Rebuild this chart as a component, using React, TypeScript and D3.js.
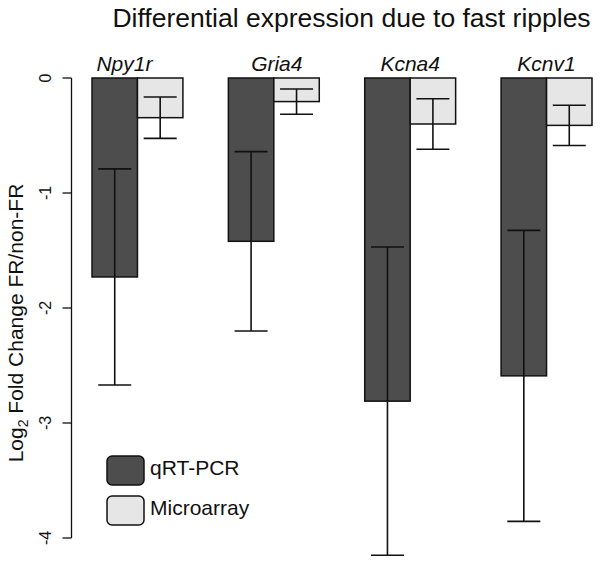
import * as d3 from "d3"

const genes = ["Npy1r", "Gria4", "Kcna4", "Kcnv1"]
const series = ["qRT-PCR", "Microarray"]
const qpcrMean = [-1.73, -1.42, -2.81, -2.59]
const qpcrErr = [0.94, 0.78, 1.34, 1.265]
const arrayMean = [-0.345, -0.205, -0.4, -0.412]
const arrayErr = [0.18, 0.11, 0.22, 0.175]
const yTicks = [0, -1, -2, -3, -4]

const W = 602
const H = 564
const font = "'Liberation Sans', Arial, Helvetica, sans-serif"
const fills = ["#4d4d4d", "#e6e6e6"]

// small nudges so the gene names sit where the original put them
const labelShift: Record<string, number> = { Npy1r: -13, Gria4: 3 }

export default function App() {
  const x = d3.scaleBand<string>().domain(genes).range([92, 592]).paddingInner(1 / 3).paddingOuter(0)
  const xs = d3.scaleBand<string>().domain(series).range([0, x.bandwidth()])
  const y = d3.scaleLinear().domain([-4, 0]).range([538, 78])

  const rows = genes.map((g, i) => [
    { gene: g, s: series[0], mean: qpcrMean[i], err: qpcrErr[i] },
    { gene: g, s: series[1], mean: arrayMean[i], err: arrayErr[i] },
  ])

  const capW = 33
  const axisX = 71.5

  return (
    <svg
      width={W}
      height={H}
      style={{ position: "absolute", left: 0, top: 0, background: "#fff" }}
      fontFamily={font}
    >
      <rect width={W} height={H} fill="#fff" />

      {/* title */}
      <text x={351.5} y={27} textAnchor="middle" fontSize={26.5} fill="#111">
        Differential expression due to fast ripples
      </text>

      {/* bars */}
      {rows.map((pair) =>
        pair.map((d, j) => {
          const bx = (x(d.gene) as number) + (xs(d.s) as number)
          return (
            <rect
              key={d.gene + d.s}
              x={bx}
              y={y(0)}
              width={xs.bandwidth()}
              height={y(d.mean) - y(0)}
              fill={fills[j]}
              stroke="#111"
              strokeWidth={1.5}
            />
          )
        })
      )}

      {/* error bars */}
      {rows.map((pair) =>
        pair.map((d) => {
          const cx = (x(d.gene) as number) + (xs(d.s) as number) + xs.bandwidth() / 2
          const top = y(d.mean + d.err)
          const bot = y(d.mean - d.err)
          return (
            <g key={"e" + d.gene + d.s} stroke="#111" strokeWidth={1.6}>
              <line x1={cx} x2={cx} y1={top} y2={bot} />
              <line x1={cx - capW / 2} x2={cx + capW / 2} y1={top} y2={top} />
              <line x1={cx - capW / 2} x2={cx + capW / 2} y1={bot} y2={bot} />
            </g>
          )
        })
      )}

      {/* gene labels */}
      {genes.map((g) => (
        <text
          key={g}
          x={(x(g) as number) + x.bandwidth() / 2 + (labelShift[g] || 0)}
          y={71}
          textAnchor="middle"
          fontSize={21}
          fontStyle="italic"
          fill="#111"
        >
          {g}
        </text>
      ))}

      {/* y axis */}
      <line x1={axisX} x2={axisX} y1={y(0)} y2={y(-4)} stroke="#111" strokeWidth={1.3} />
      {yTicks.map((t) => (
        <g key={t}>
          <line x1={axisX - 9} x2={axisX} y1={y(t)} y2={y(t)} stroke="#111" strokeWidth={1.3} />
          <text
            transform={`translate(51,${y(t)}) rotate(-90)`}
            textAnchor="middle"
            fontSize={16}
            fill="#111"
          >
            {t}
          </text>
        </g>
      ))}

      {/* y axis title */}
      <text transform={`translate(23,323) rotate(-90)`} textAnchor="middle" fontSize={21} fill="#111">
        Log<tspan fontSize={14} dy={5}>2</tspan>
        <tspan dy={-5}> Fold Change FR/non-FR</tspan>
      </text>

      {/* legend */}
      {series.map((s, i) => (
        <g key={s} transform={`translate(107,${456 + i * 40})`}>
          <rect width={37} height={29} rx={5} fill={fills[i]} stroke="#111" strokeWidth={1.5} />
          <text x={43} y={i === 0 ? 19 : 19} fontSize={21} fill="#111">
            {s}
          </text>
        </g>
      ))}
    </svg>
  )
}
